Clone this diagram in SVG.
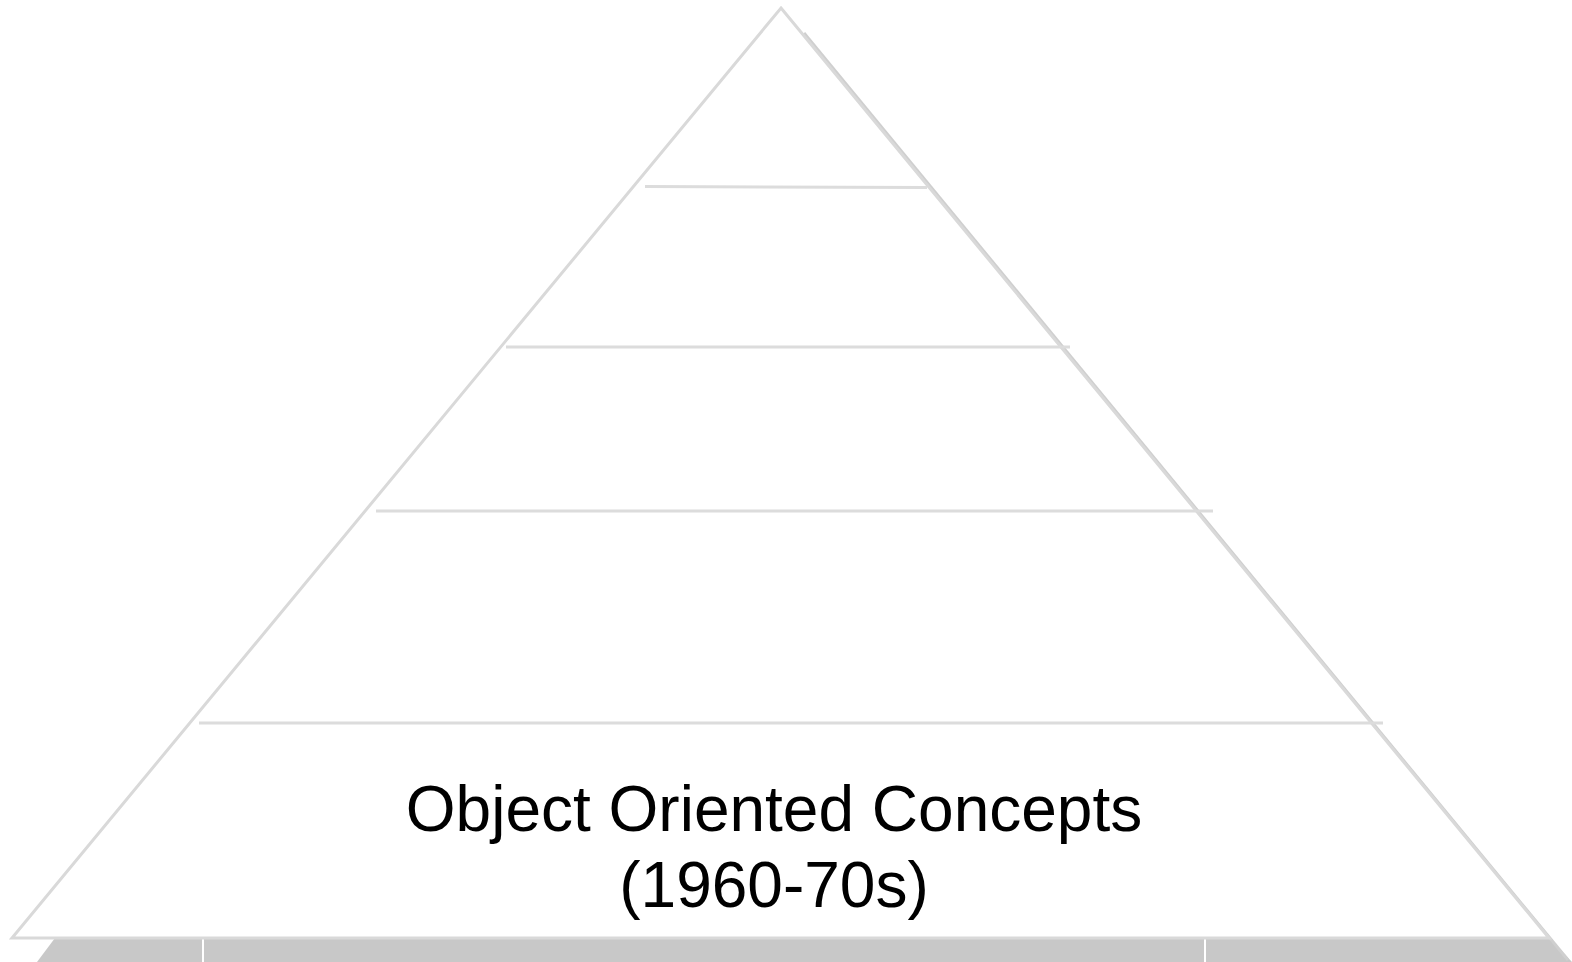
<svg xmlns="http://www.w3.org/2000/svg" width="1572" height="962" viewBox="0 0 1572 962">
<style>
.edge{fill:none;stroke:#d9d9d9;stroke-width:3}
.div{stroke:#dcdcdc;stroke-width:3}
.lbl{font-family:"Liberation Sans",Arial,sans-serif;font-size:64px;fill:#000;text-anchor:middle}
</style>
<rect width="1572" height="962" fill="#fff"/>
<g id="base">
<polygon points="55,938 1550,938 1572,962 37,962" fill="#c8c8c8"/>
<line x1="203" y1="938" x2="203" y2="962" stroke="#fff" stroke-width="2"/>
<line x1="1205" y1="938" x2="1205" y2="962" stroke="#fff" stroke-width="2"/>
</g>
<g id="shadow">
<line x1="804" y1="33" x2="1568" y2="960" stroke="#cfcfcf" stroke-width="3"/>
</g>
<g id="pyramid">
<polygon class="edge" points="781,8 1549,938 12,938" fill="#fff"/>
</g>
<g id="dividers">
<line class="div" x1="645" y1="186.5" x2="927" y2="187.5"/>
<line class="div" x1="506" y1="347" x2="1070" y2="347"/>
<line class="div" x1="376" y1="511" x2="1213" y2="511"/>
<line class="div" x1="199" y1="723" x2="1383" y2="723"/>
</g>
<g id="level1">
<text class="lbl" x="774" y="831">Object Oriented Concepts</text>
<text class="lbl" x="774" y="907">(1960-70s)</text>
</g>
</svg>
